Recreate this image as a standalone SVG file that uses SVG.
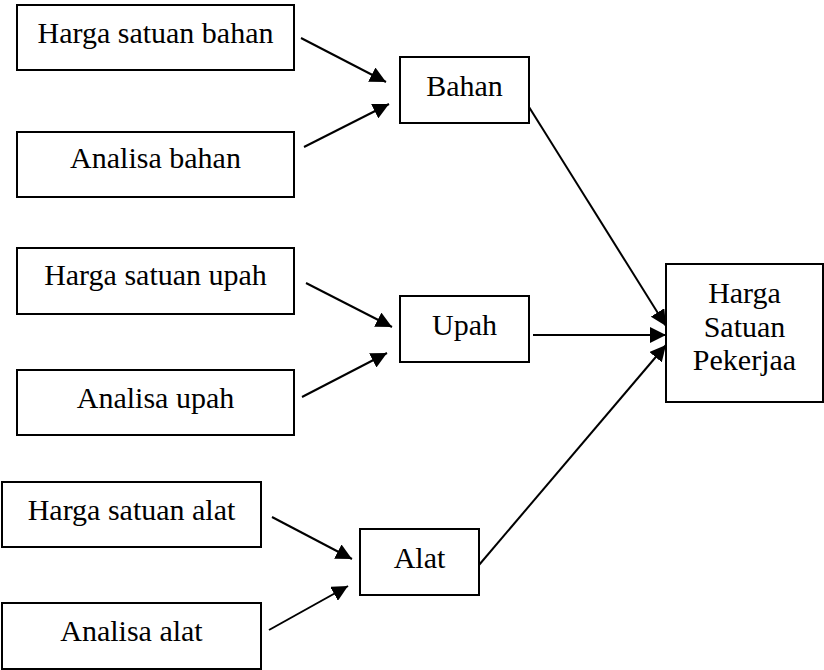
<svg xmlns="http://www.w3.org/2000/svg" width="824" height="670" viewBox="0 0 824 670">
  <style>
    .box { fill: #ffffff; stroke: #000000; stroke-width: 2; }
    .lbl { font-family: "Liberation Serif", "Times New Roman", serif; font-size: 30px; fill: #000000; text-anchor: middle; }
    .edge { stroke: #000000; stroke-width: 2; fill: none; marker-end: url(#arrow); }
  </style>
  <defs>
    <marker id="arrow" markerUnits="userSpaceOnUse" markerWidth="18" markerHeight="16" refX="16" refY="8" orient="auto">
      <path d="M0,0 L16,8 L0,16 Z" fill="#000000"/>
    </marker>
  </defs>
  <rect width="824" height="670" fill="#ffffff"/>

  <g id="harga-satuan-bahan">
    <rect class="box" x="17" y="5" width="277" height="65"/>
    <text class="lbl" x="155.5" y="43">Harga satuan bahan</text>
  </g>
  <g id="analisa-bahan">
    <rect class="box" x="17" y="132" width="277" height="65"/>
    <text class="lbl" x="155.5" y="168">Analisa bahan</text>
  </g>
  <g id="harga-satuan-upah">
    <rect class="box" x="17" y="248" width="277" height="66"/>
    <text class="lbl" x="155.5" y="285">Harga satuan upah</text>
  </g>
  <g id="analisa-upah">
    <rect class="box" x="17" y="370" width="277" height="65"/>
    <text class="lbl" x="155.5" y="408">Analisa upah</text>
  </g>
  <g id="harga-satuan-alat">
    <rect class="box" x="2" y="482" width="259" height="65"/>
    <text class="lbl" x="131.5" y="520">Harga satuan alat</text>
  </g>
  <g id="analisa-alat">
    <rect class="box" x="2" y="603" width="259" height="66"/>
    <text class="lbl" x="131.5" y="641">Analisa alat</text>
  </g>
  <g id="bahan">
    <rect class="box" x="400" y="57" width="129" height="66"/>
    <text class="lbl" x="464.5" y="96">Bahan</text>
  </g>
  <g id="upah">
    <rect class="box" x="400" y="296" width="129" height="66"/>
    <text class="lbl" x="464.5" y="335">Upah</text>
  </g>
  <g id="alat">
    <rect class="box" x="360" y="529" width="119" height="66"/>
    <text class="lbl" x="419.5" y="568">Alat</text>
  </g>
  <g id="harga-satuan-pekerjaan">
    <rect class="box" x="666" y="264" width="157" height="138"/>
    <text class="lbl" x="744.5" y="303">Harga</text>
    <text class="lbl" x="744.5" y="337">Satuan</text>
    <text class="lbl" x="744.5" y="370">Pekerjaa</text>
  </g>

  <g id="connectors">
    <line class="edge" x1="301" y1="38" x2="386" y2="82"/>
    <line class="edge" x1="304" y1="147" x2="389" y2="104"/>
    <line class="edge" x1="306" y1="283" x2="392" y2="327"/>
    <line class="edge" x1="302" y1="397" x2="387" y2="353"/>
    <line class="edge" x1="272" y1="517" x2="352" y2="559"/>
    <line class="edge" x1="269" y1="630" x2="348" y2="586"/>
    <line class="edge" x1="529" y1="107" x2="666" y2="326"/>
    <line class="edge" x1="533" y1="335" x2="666" y2="335"/>
    <line class="edge" x1="479" y1="565" x2="666" y2="345"/>
  </g>
</svg>
